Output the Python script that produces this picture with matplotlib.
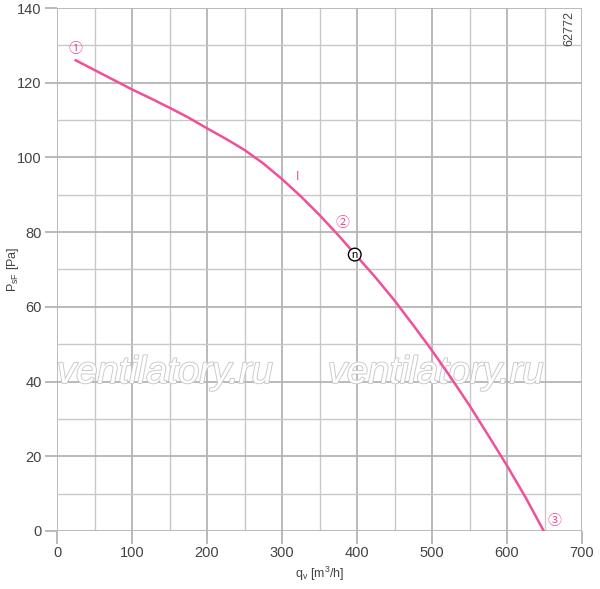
import matplotlib
matplotlib.use("Agg")
import matplotlib.pyplot as plt
import matplotlib.patheffects as pe
from matplotlib.ticker import MultipleLocator

plt.rcParams["font.family"] = ["Liberation Sans", "DejaVu Sans"]

# curve data
caudal = [25, 50, 75, 100, 125, 150, 175, 200, 225, 250, 275, 300, 325, 350,
          375, 400, 425, 450, 475, 500, 525, 550, 575, 600, 625, 649]
presion = [126, 123.4, 120.8, 118.2, 115.8, 113.3, 110.7, 107.8, 105.0, 102, 98.4, 94.2, 89.6, 84.6,
           79.2, 73.5, 67.8, 61.7, 55.1, 48.3, 41.1, 33.6, 25.6, 17.5, 8.9, 0]

# operating point markers
puntos_x = [24, 380, 663]
puntos_y = [129, 82.5, 2.7]
puntos_txt = ["\u2460", "\u2461", "\u2462"]
punto_n = (397, 74)
punto_i = (321, 94.7)

rosa = "#f0509a"
gris = "#b4b4b4"
texto = "#444444"

fig = plt.figure(figsize=(6, 5.89), dpi=100)
ax = fig.add_axes([0.095, 0.0985, 0.875, 0.8879])

ax.plot(caudal, presion, color=rosa, linewidth=1.8, zorder=3)

for x, y, t in zip(puntos_x, puntos_y, puntos_txt):
    ax.text(x, y, t, color=rosa, fontsize=10, ha="center", va="center",
            family=["Noto Sans CJK SC", "DejaVu Sans"])
ax.text(punto_n[0], punto_n[1], "n", color="black", fontsize=8, ha="center",
        va="center", bbox=dict(boxstyle="circle,pad=0.12", fc="white", ec="black", lw=1))
ax.text(punto_i[0], punto_i[1], "I", color=rosa, fontsize=9, ha="center", va="center")

# watermark
for wx in [144, 505]:
    ax.text(wx, 42.3, "ventilatory.ru", fontsize=27.5, style="italic", color="white",
            ha="center", va="center", zorder=1,
            path_effects=[pe.withStroke(linewidth=1.3, foreground="#c8c8c8")])

ax.set_xlim(0, 700)
ax.set_ylim(0, 140)
ax.xaxis.set_major_locator(MultipleLocator(100))
ax.xaxis.set_minor_locator(MultipleLocator(50))
ax.yaxis.set_major_locator(MultipleLocator(20))
ax.yaxis.set_minor_locator(MultipleLocator(10))
ax.grid(True, which="major", color=gris, linewidth=1.3, zorder=0)
ax.grid(True, which="minor", color="#c8c8c8", linewidth=1.0, zorder=0)
ax.set_axisbelow(True)
for s in ax.spines.values():
    s.set_visible(False)
ax.tick_params(which="major", length=9, color=gris, width=1.3, labelsize=10.5, labelcolor=texto, pad=2)
ax.tick_params(which="minor", length=0)

ax.set_xlabel("q$_\\mathregular{v}$ [m$^\\mathregular{3}$/h]", fontsize=9, color=texto, labelpad=3)
ax.set_ylabel("P$_\\mathregular{sF}$ [Pa]", fontsize=9, color=texto)
ax.yaxis.set_label_coords(-0.068, 0.5)

ax.text(0.976, 0.96, "62772", transform=ax.transAxes, rotation=90, fontsize=9,
        color=texto, ha="center", va="center")

fig.savefig("out.png", dpi=100)
